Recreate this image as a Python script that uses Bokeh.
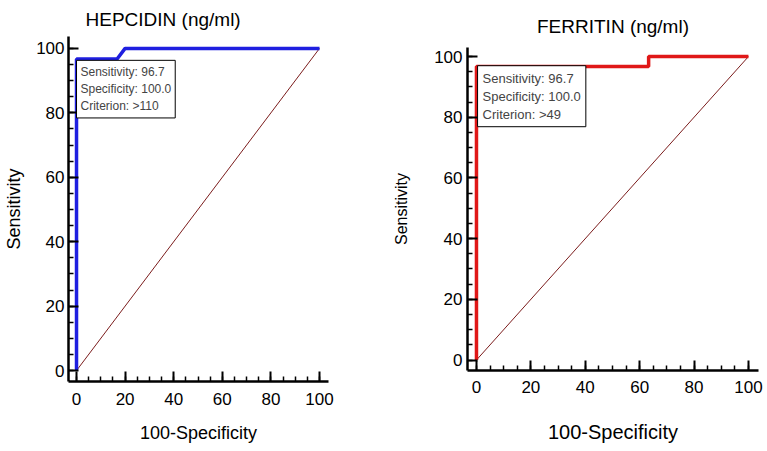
from bokeh.plotting import figure
from bokeh.models import Range1d, SingleIntervalTicker, Label
from bokeh.layouts import row, column
from bokeh.embed import file_html
from bokeh.resources import INLINE

FONT = "Liberation Sans"

# ROC data (100-Specificity, Sensitivity)
hep_fpr = [0, 0, 16.7, 20.0, 100]
hep_tpr = [0, 96.7, 96.7, 100, 100]
fer_fpr = [0, 0, 63.3, 63.3, 100]
fer_tpr = [0, 96.7, 96.7, 100, 100]
diag = [0, 100]

hep_title = "HEPCIDIN (ng/ml)"
fer_title = "FERRITIN (ng/ml)"
hep_box = "Sensitivity: 96.7\nSpecificity: 100.0\nCriterion: >110"
fer_box = "Sensitivity: 96.7\nSpecificity: 100.0\nCriterion: >49"
xlab = "100-Specificity"
ylab = "Sensitivity"


def make(w, h, xr, yr, borders, fpr, tpr, color, title, box, boxpos, st):
    p = figure(width=w, height=h, x_range=Range1d(*xr), y_range=Range1d(*yr),
               output_backend="svg", toolbar_location=None,
               min_border_left=borders[0], min_border_right=borders[1],
               min_border_top=borders[2], min_border_bottom=borders[3])
    p.outline_line_color = None
    p.xgrid.visible = False
    p.ygrid.visible = False
    p.title.text = title
    p.title.text_font = FONT
    p.title.text_font_size = st["title"]
    p.title.text_font_style = "normal"
    p.title.text_color = "black"
    p.title.align = st["talign"]
    p.title.offset = st["toff"]
    p.title.standoff = st["tstand"]
    for ax in (p.xaxis[0], p.yaxis[0]):
        ax.ticker = SingleIntervalTicker(interval=20, num_minor_ticks=4)
        ax.axis_line_width = 2.5
        ax.axis_line_color = "black"
        ax.major_tick_in = 10
        ax.major_tick_out = 0
        ax.minor_tick_in = 5
        ax.minor_tick_out = 0
        ax.major_tick_line_width = 2
        ax.minor_tick_line_width = 1.5
        ax.major_tick_line_color = "black"
        ax.minor_tick_line_color = "black"
        ax.major_label_text_font = FONT
        ax.major_label_text_font_size = st["tick"]
        ax.major_label_text_color = "black"
        ax.axis_label_text_font = FONT
        ax.axis_label_text_font_style = "normal"
        ax.axis_label_text_color = "black"
    p.xaxis.axis_label = xlab
    p.yaxis.axis_label = ylab
    p.xaxis.axis_label_text_font_size = st["xlab"]
    p.yaxis.axis_label_text_font_size = st["ylab"]
    p.xaxis.major_label_standoff = st["xstand"]
    p.yaxis.major_label_standoff = st["ystand"]
    p.xaxis.axis_label_standoff = st["xlstand"]
    p.yaxis.axis_label_standoff = st["ylstand"]

    p.line(diag, diag, line_color="#7b1c1c", line_width=1)
    p.line(fpr, tpr, line_color=color, line_width=3.5)

    p.add_layout(Label(x=boxpos[0], y=boxpos[1], text=box, text_font=FONT,
                       text_font_size=st["box"], text_align="left", text_baseline="top",
                       border_line_color="black", border_line_width=1,
                       background_fill_color="white", padding=st["pad"]))
    return p


p1 = make(335, 450, (-3.3, 103.7), (-3.4, 103.7), (68, 7, 34, 69),
          hep_fpr, hep_tpr, "#1f1fe0", hep_title, hep_box, (0, 96.3),
          {"tick": "17px", "box": "12px", "title": "19px", "xlab": "18px", "ylab": "18px",
           "xstand": 11, "ystand": 4, "xlstand": 15, "ylstand": 9,
           "talign": "left", "toff": 17, "tstand": 13, "pad": (4, 5)})

p2 = make(431, 450, (-3.3, 103.7), (-3.46, 103.0), (132, 8, 47, 80),
          fer_fpr, fer_tpr, "#e01818", fer_title, fer_box, (0.4, 97.0),
          {"tick": "17px", "box": "13px", "title": "19px", "xlab": "20px", "ylab": "16px",
           "xstand": 10, "ystand": 5, "xlstand": 25, "ylstand": 21,
           "talign": "center", "toff": 0, "tstand": 21, "pad": 5})

layout = row(column(p1), column(p2), spacing=0)
open("out.html", "w").write(file_html(layout, INLINE))
